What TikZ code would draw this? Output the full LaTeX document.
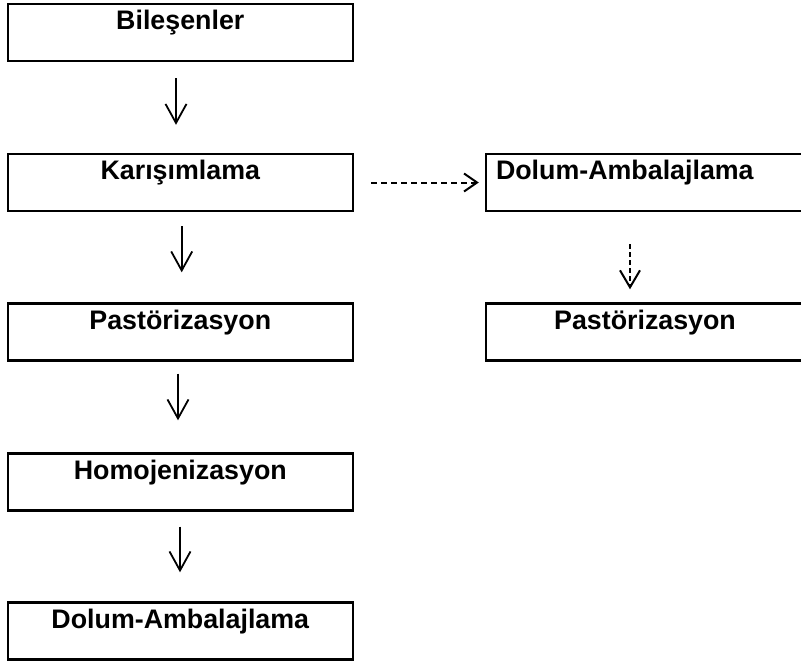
\documentclass[tikz,border=0pt]{standalone}
\usepackage{fontspec}
\setmainfont{Liberation Sans}
\usetikzlibrary{arrows.meta}
\begin{document}
\begin{tikzpicture}[x=1pt,y=-1pt,
  stagebox/.style={draw, line width=2.4pt, rectangle, inner xsep=0pt, inner ysep=0pt,
    minimum width=345pt, minimum height=57pt, text height=25.5pt, text depth=31.5pt,
    font=\fontsize{26.8}{30}\selectfont\bfseries},
  sidebox/.style={stagebox, minimum width=318pt},
  flow/.style={line width=1.8pt, -{Straight Barb[length=19pt,width=21pt]}},
  altflow/.style={line width=2pt, dash pattern=on 6pt off 4pt,
    -{Straight Barb[length=13pt,width=18pt]}},
]
\useasboundingbox (0,0) rectangle (801,661);

% main process line
\node[stagebox] (b1) at (180.3,32.8) {Bileşenler};
\node[stagebox] (b2) at (180.3,182.5) {Karışımlama};
\node[stagebox] (b3) at (180.3,332) {Pastörizasyon};
\node[stagebox] (b4) at (180.3,482) {Homojenizasyon};
\node[stagebox] (b5) at (180.3,631) {Dolum-Ambalajlama};

% alternative branch
\node[sidebox, text width=298pt, align=left, inner xsep=10pt] (r1) at (645,182.5) {Dolum-Ambalajlama};
\node[sidebox] (r2) at (645,332) {Pastörizasyon};

\draw[flow, shorten <=16pt, shorten >=28pt] ([xshift=-4.3pt]b1.south) -- ([xshift=-4.3pt]b2.north);
\draw[flow, shorten <=14pt, shorten >=30pt] ([xshift=1.4pt]b2.south) -- ([xshift=1.4pt]b3.north);
\draw[flow, shorten <=12pt, shorten >=32pt] ([xshift=-2.3pt]b3.south) -- ([xshift=-2.3pt]b4.north);
\draw[flow, shorten <=15pt, shorten >=29pt] ([xshift=-0.3pt]b4.south) -- ([xshift=-0.3pt]b5.north);

\draw[altflow, shorten <=17pt, shorten >=6pt] (b2.east) -- (r1.west);
\draw[altflow, dash pattern=on 5pt off 3pt, -{Straight Barb[length=17pt,width=20pt]},
  shorten <=32pt, shorten >=13pt] ([xshift=-15pt]r1.south) -- ([xshift=-15pt]r2.north);
\end{tikzpicture}
\end{document}
